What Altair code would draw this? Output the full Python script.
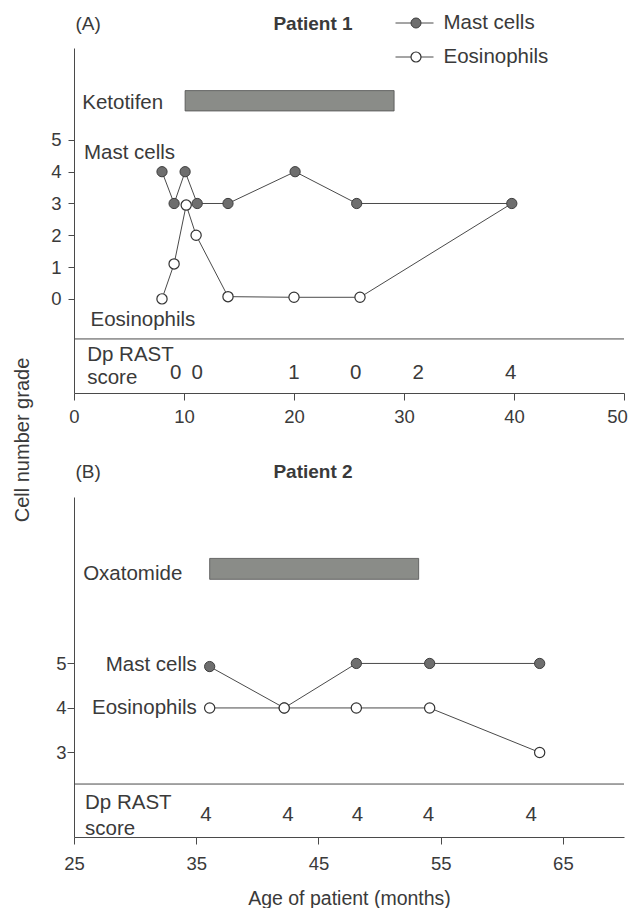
import altair as alt
import pandas as pd

FONT = "Liberation Sans"
INK = "#3a3a3a"
LINE = "#4a4a4a"
MAST_FILL = "#6e6e6e"
MAST_STROKE = "#3d3d3d"
BAR_FILL = "#8a8c88"
BAR_STROKE = "#4f4f4f"

cells = ["Mast cells", "Eosinophils"]

# ---------- Panel A (Patient 1) ----------
a_mast_month = [8.0, 9.1, 10.1, 11.2, 14.0, 20.1, 25.7, 39.8]
a_mast_grade = [4, 3, 4, 3, 3, 4, 3, 3]
a_eos_month = [8.0, 9.1, 10.2, 11.1, 14.0, 20.0, 26.0, 39.8]
a_eos_grade = [0, 1.1, 2.95, 2.0, 0.07, 0.05, 0.05, 3]
a_rast_month = [9.25, 11.2, 20.0, 25.6, 31.3, 39.7]
a_rast_score = ["0", "0", "1", "0", "2", "4"]
a_drug = ["Ketotifen"]
a_drug_start = [10.1]
a_drug_end = [29.1]
a_x_ticks = [0, 10, 20, 30, 40, 50]
a_y_ticks = [0, 1, 2, 3, 4, 5]

# ---------- Panel B (Patient 2) ----------
b_mast_month = [36.1, 42.2, 48.1, 54.1, 63.1]
b_mast_grade = [4.93, 4, 5, 5, 5]
b_eos_month = [36.1, 42.2, 48.1, 54.1, 63.1]
b_eos_grade = [4, 4, 4, 4, 3]
b_rast_month = [35.8, 42.5, 48.2, 54.0, 62.4]
b_rast_score = ["4", "4", "4", "4", "4"]
b_drug = ["Oxatomide"]
b_drug_start = [36.1]
b_drug_end = [53.2]
b_x_ticks = [25, 35, 45, 55, 65]
b_y_ticks = [3, 4, 5]

ONE = pd.DataFrame({"k": [0]})
TXT = 20.5


def txt(text, size=TXT, align="left", weight="normal", angle=0):
    kw = dict(text=text, font=FONT, fontSize=size, color=INK, align=align,
              baseline="middle", fontWeight=weight)
    if angle:
        kw["angle"] = angle
    return alt.Chart(ONE).mark_text(**kw)


def panel(mast_m, mast_g, eos_m, eos_g, rast_m, rast_s, drug, d0, d1,
          xticks, yticks, L, letter, title, legend=False, ytitle=False):
    xs = alt.Scale(domain=L["xdom"], nice=False, zero=False)
    ys = alt.Scale(domain=L["ydom"], nice=False, zero=False)
    W, H = L["w"], L["h"]
    xaxis_kw = dict(values=xticks, grid=False, tickSize=7, tickColor=LINE,
                    domainColor=LINE, labelFont=FONT, labelFontSize=18.5,
                    labelColor=INK, labelPadding=L["xlabpad"], labelFlush=False,
                    labelOverlap=False, format="d")
    if L.get("last_label_shift"):
        xaxis_kw["labelOffset"] = {
            "condition": {"test": "datum.value == %s" % xticks[-1],
                          "value": L["last_label_shift"]},
            "value": 0,
        }
    if L.get("xtitle"):
        xaxis_kw.update(title=L["xtitle"], titleFont=FONT, titleFontSize=19.5,
                        titleColor=INK, titleFontWeight="normal",
                        titlePadding=L["xtitlepad"])
    else:
        xaxis_kw.update(title=None)
    xaxis = alt.Axis(**xaxis_kw)
    yaxis = alt.Axis(values=yticks, title=None, grid=False, tickSize=L["ytick"],
                     tickColor=LINE, domainColor=LINE, labelFont=FONT,
                     labelFontSize=18.5, labelColor=INK,
                     labelPadding=L["ylabpad"], format="d")

    def X(d):
        return alt.X(datum=d, scale=xs, axis=xaxis)

    def Y(d):
        return alt.Y(datum=d, scale=ys, axis=yaxis)

    def XF(f):
        return alt.X(f, scale=xs, axis=xaxis)

    def YF(f):
        return alt.Y(f, scale=ys, axis=yaxis)

    mast_df = pd.DataFrame({"month": mast_m, "grade": mast_g, "cell": cells[0]})
    eos_df = pd.DataFrame({"month": eos_m, "grade": eos_g, "cell": cells[1]})
    lines_df = pd.concat([mast_df, eos_df], ignore_index=True)
    rast_df = pd.DataFrame({"month": rast_m, "score": rast_s})
    drug_df = pd.DataFrame({"drug": drug, "start": d0, "end": d1})

    layers = []
    layers.append(
        alt.Chart(drug_df).mark_rect(fill=BAR_FILL, stroke=BAR_STROKE, strokeWidth=0.8)
        .encode(x=XF("start:Q"), x2="end:Q",
                y=Y(L["bar"][0]), y2=alt.datum(L["bar"][1]))
    )
    layers.append(
        alt.Chart(drug_df).mark_text(font=FONT, fontSize=TXT, color=INK,
                                     align="left", baseline="middle")
        .encode(x=X(L["drug_lab"][0]), y=Y(L["drug_lab"][1]), text="drug:N")
    )
    layers.append(
        alt.Chart(ONE).mark_rule(color=LINE, strokeWidth=1)
        .encode(y=Y(L["sep"]), x=alt.value(0), x2=alt.value(W))
    )
    layers.append(
        alt.Chart(lines_df).mark_line(color=LINE, strokeWidth=1)
        .encode(x=XF("month:Q"), y=YF("grade:Q"), detail="cell:N")
    )
    layers.append(
        alt.Chart(mast_df).mark_point(filled=True, shape="circle", size=105,
                                      fill=MAST_FILL, stroke=MAST_STROKE,
                                      strokeWidth=1, opacity=1)
        .encode(x=XF("month:Q"), y=YF("grade:Q"))
    )
    layers.append(
        alt.Chart(eos_df).transform_filter(alt.datum.month < L["eos_max"])
        .mark_point(filled=True, shape="circle", size=105, fill="white",
                    stroke="#333333", strokeWidth=1.2, opacity=1)
        .encode(x=XF("month:Q"), y=YF("grade:Q"))
    )
    a = L["cell_align"]
    layers.append(txt(cells[0], align=a).encode(x=X(L["mast_lab"][0]), y=Y(L["mast_lab"][1])))
    layers.append(txt(cells[1], align=a).encode(x=X(L["eos_lab"][0]), y=Y(L["eos_lab"][1])))
    layers.append(txt("Dp RAST").encode(x=X(L["rast_lab"][0]), y=Y(L["rast_lab"][1])))
    layers.append(txt("score").encode(x=X(L["rast_lab"][0]), y=Y(L["rast_lab"][2])))
    layers.append(
        alt.Chart(rast_df).mark_text(font=FONT, fontSize=TXT, color=INK,
                                     align="center", baseline="middle")
        .encode(x=XF("month:Q"), y=Y(L["rast_y"]), text="score:N")
    )
    layers.append(txt(letter, size=19).encode(x=alt.value(1.5), y=alt.value(L["title_y"])))
    layers.append(txt(title, size=19, align="center", weight="bold")
                  .encode(x=alt.value(239), y=alt.value(L["title_y"])))
    if legend:
        for i, (fill, stroke, sw) in enumerate([(MAST_FILL, MAST_STROKE, 1),
                                                 ("white", "#333333", 1.2)]):
            yy = L["leg_y"][i]
            layers.append(alt.Chart(ONE).mark_rule(color=LINE, strokeWidth=1)
                          .encode(x=alt.value(321.5), x2=alt.value(359.5), y=alt.value(yy)))
            layers.append(alt.Chart(ONE).mark_point(filled=True, shape="circle", size=100,
                                                    fill=fill, stroke=stroke,
                                                    strokeWidth=sw, opacity=1)
                          .encode(x=alt.value(342), y=alt.value(yy)))
            layers.append(txt(cells[i]).encode(x=alt.value(369.5), y=alt.value(yy)))
    if ytitle:
        layers.append(txt("Cell number grade", size=20, align="center", angle=270)
                      .encode(x=alt.value(-51), y=alt.value(392)))
    return alt.layer(*layers).properties(width=W, height=H)


LA = dict(w=550, h=345, xdom=[0, 50], ydom=[-2.96, 7.89], xlabpad=7, ylabpad=7,
          ytick=6, bar=(5.91, 6.55), drug_lab=(0.75, 6.15), sep=-1.26,
          mast_lab=(0.9, 4.59), eos_lab=(1.5, -0.66), cell_align="left",
          rast_lab=(1.2, -1.76, -2.48), rast_y=-2.33, eos_max=39,
          title_y=-24, leg_y=(-25, 9), last_label_shift=-7)
LB = dict(w=550, h=340, xdom=[25, 70], ydom=[1.10, 8.74], xlabpad=10, ylabpad=1,
          ytick=7, bar=(6.89, 7.36), drug_lab=(25.75, 7.02), sep=2.29,
          mast_lab=(35.05, 4.96), eos_lab=(35.05, 4.0), cell_align="right",
          rast_lab=(25.9, 1.87, 1.29), rast_y=1.59, eos_max=100,
          title_y=-25, xtitle="Age of patient (months)", xtitlepad=17)

top = panel(a_mast_month, a_mast_grade, a_eos_month, a_eos_grade, a_rast_month,
            a_rast_score, a_drug, a_drug_start, a_drug_end, a_x_ticks, a_y_ticks,
            LA, "(A)", "Patient 1", legend=True, ytitle=True)
bottom = panel(b_mast_month, b_mast_grade, b_eos_month, b_eos_grade, b_rast_month,
               b_rast_score, b_drug, b_drug_start, b_drug_end, b_x_ticks, b_y_ticks,
               LB, "(B)", "Patient 2")

chart = alt.vconcat(top, bottom, spacing=104, bounds="flush").properties(
    padding={"left": 5, "top": 5, "right": 0, "bottom": 0}
).configure_view(stroke=None)

chart.save("out.html", embed_options={"renderer": "svg", "actions": False})
